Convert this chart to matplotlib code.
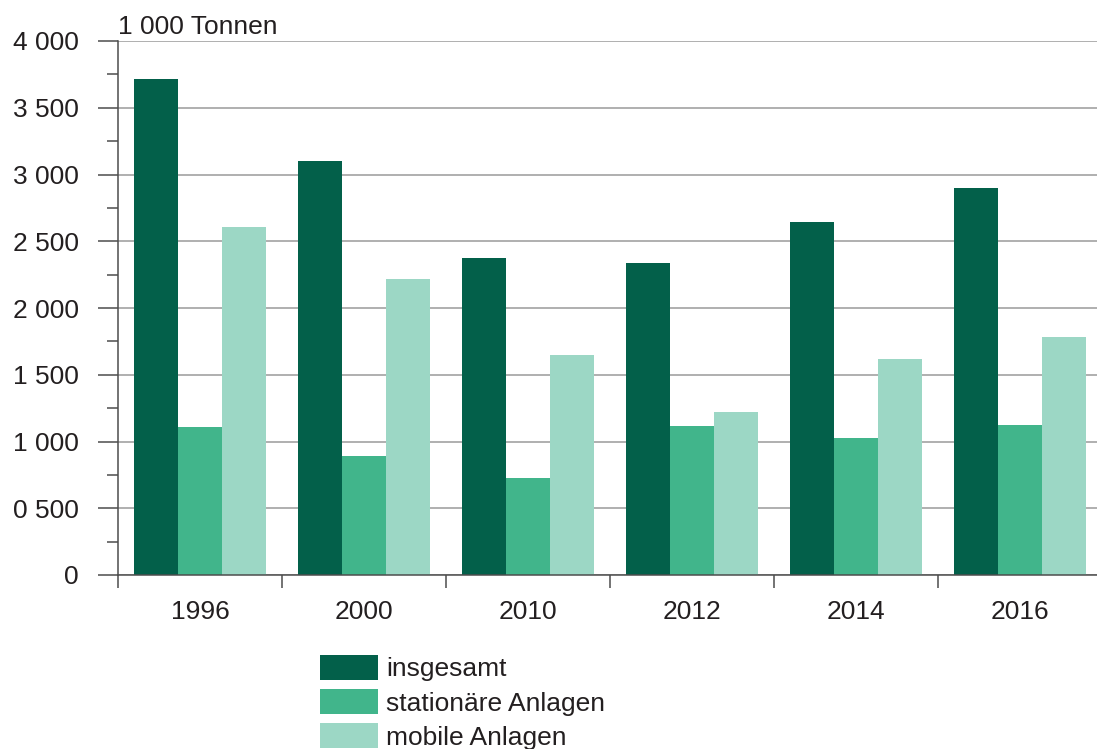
"""Grouped bar chart: Abfallmengen in 1 000 Tonnen."""

import matplotlib
import numpy as np

matplotlib.use("Agg")
from matplotlib import pyplot as plt
from matplotlib.ticker import FixedLocator, MultipleLocator

years = ["1996", "2000", "2010", "2012", "2014", "2016"]
insgesamt = [3715, 3101, 2375, 2337, 2644, 2899]
stationaer = [1109, 891, 727, 1116, 1026, 1124]
mobil = [2607, 2217, 1648, 1221, 1618, 1783]
series_labels = ["insgesamt", "stationäre Anlagen", "mobile Anlagen"]
colors = ["#03604a", "#41b58b", "#9cd7c5"]
y_tick_values = [0, 500, 1000, 1500, 2000, 2500, 3000, 3500, 4000]
y_tick_labels = ["0", "0 500", "1 000", "1 500", "2 000", "2 500", "3 000", "3 500", "4 000"]

plt.rcParams["font.family"] = ["Liberation Sans", "DejaVu Sans"]
FS = 19
TEXT = "#231f20"
AXIS = "#4d4d4d"

W, H = 1097, 749
fig = plt.figure(figsize=(W / 100, H / 100), dpi=100)
ax = fig.add_axes([118 / W, (H - 575) / H, (W - 118) / W, (575 - 41) / H])

x = np.arange(len(years))
bar_w = 44 / 164
for k, (values, label, color) in enumerate(zip([insgesamt, stationaer, mobil], series_labels, colors)):
    ax.bar(x + (k - 1) * bar_w, values, width=bar_w, color=color, label=label, linewidth=0)

ax.set_xlim(-0.5, -0.5 + (W - 118) / 164)
ax.set_ylim(0, 4000)

ax.set_yticks(y_tick_values)
ax.set_yticklabels(y_tick_labels)
ax.yaxis.set_minor_locator(MultipleLocator(250))
ax.tick_params(axis="y", which="major", length=14.4, width=1.1, color=AXIS, pad=14, labelsize=FS, labelcolor=TEXT)
ax.tick_params(axis="y", which="minor", length=8, width=1.1, color=AXIS)

ax.set_xticks(x)
ax.set_xticklabels(years)
ax.xaxis.set_minor_locator(FixedLocator(np.arange(len(years) + 1) - 0.5))
ax.tick_params(axis="x", which="major", length=0, pad=18, labelsize=FS, labelcolor=TEXT)
ax.tick_params(axis="x", which="minor", length=9.4, width=1.1, color=AXIS)

ax.grid(axis="y", which="major", color="#9a9a9a", linewidth=1.1)
ax.set_axisbelow(True)
for side in ["top", "right"]:
    ax.spines[side].set_visible(False)
for side in ["left", "bottom"]:
    ax.spines[side].set_color(AXIS)
    ax.spines[side].set_linewidth(1.1)

fig.text(118 / W, (H - 34) / H, "1 000 Tonnen", fontsize=FS, color=TEXT, ha="left", va="baseline")

fig.legend(
    loc="upper left",
    bbox_to_anchor=(299 / W, (H - 634) / H),
    frameon=False,
    fontsize=FS,
    handlelength=2.2,
    handleheight=1.05,
    handletextpad=0.3,
    labelspacing=0.3,
    borderpad=0.3,
    labelcolor=TEXT,
)

fig.savefig("out.png", dpi=100)
plt.close(fig)
